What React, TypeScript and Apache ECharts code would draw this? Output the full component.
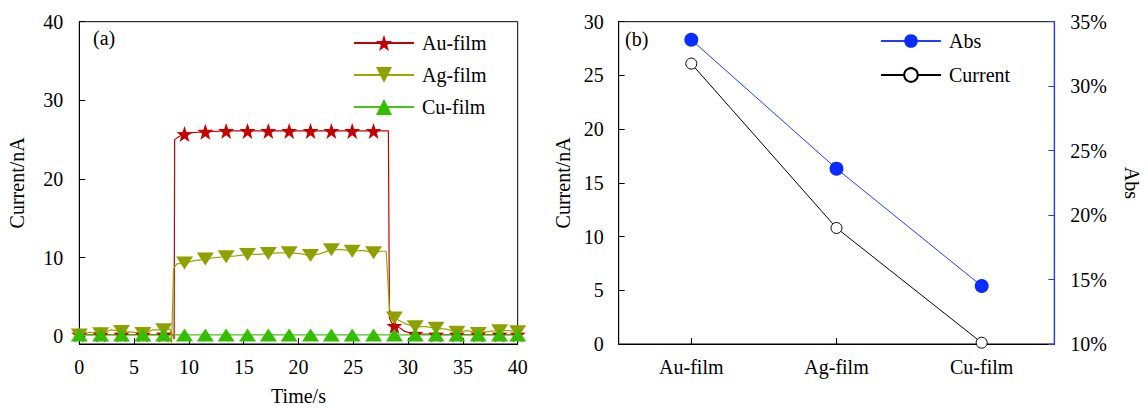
import React, { useEffect, useRef } from 'react';
import * as echarts from 'echarts';

// ---- Panel (a): current vs time ----
const markerTimes = [0, 1.95, 3.85, 5.8, 7.7, 9.6, 11.5, 13.4, 15.35, 17.25, 19.15, 21.1, 23.0, 24.9, 26.85, 28.75, 30.65, 32.55, 34.45, 36.4, 38.35, 40];
const auMarkerValues = [0.2, 0.2, 0.2, 0.2, 0.2, 25.7, 26.0, 26.1, 26.1, 26.1, 26.1, 26.1, 26.1, 26.1, 26.1, 1.3, 0.3, 0.2, 0.2, 0.2, 0.2, 0.2];
const auTracePoints = [[8.6, 0.2], [8.65, -0.4], [8.7, 25.0], [9.1, 25.4], [10.3, 25.9], [28.2, 26.1], [28.3, 2.3], [28.5, 1.7], [29.3, 1.0], [29.7, 0.6], [30.2, 0.4]];
const agMarkerValues = [0.15, 0.3, 0.6, 0.35, 0.8, 9.3, 9.8, 10.1, 10.4, 10.5, 10.6, 10.25, 11.0, 10.8, 10.6, 2.3, 1.2, 1.0, 0.5, 0.35, 0.7, 0.55];
const agTracePoints = [[0.9, 0.5], [2.9, 0.8], [4.8, 0.5], [6.7, 0.8], [8.3, 0.9], [8.42, -1.0], [8.6, 8.6], [8.9, 9.2], [10.5, 9.6], [12.4, 10.0], [14.3, 10.2], [16.3, 10.4], [18.2, 10.6], [20.1, 10.5], [22.0, 10.5], [24.0, 11.0], [25.9, 10.9], [27.6, 10.8], [28.0, 10.8], [28.3, 3.4], [29.7, 1.6], [31.6, 1.2], [33.5, 0.9], [35.4, 0.7], [37.4, 0.6], [39.2, 0.7]];
const cuMarkerValues = [0.15, 0.15, 0.15, 0.15, 0.15, 0.15, 0.15, 0.15, 0.15, 0.15, 0.15, 0.15, 0.15, 0.15, 0.15, 0.15, 0.15, 0.15, 0.15, 0.15, 0.15, 0.15];
const cuTracePoints: number[][] = [];
const timeTicks = [0, 5, 10, 15, 20, 25, 30, 35, 40];
const currentTicksA = [0, 10, 20, 30, 40];

// ---- Panel (b): films ----
const films = ['Au-film', 'Ag-film', 'Cu-film'];
const absValues = [33.6, 23.6, 14.5];
const currentValues = [26.1, 10.8, 0.12];

const FONT = "'Liberation Serif', 'Times New Roman', serif";

function buildData(markerValues: number[], trace: number[][]) {
  const pts: any[] = [];
  markerTimes.forEach((t, i) => pts.push({ value: [t, markerValues[i]] }));
  trace.forEach(([t, v]) => pts.push({ value: [t, v], symbol: 'none' }));
  pts.sort((a, b) => a.value[0] - b.value[0]);
  return pts;
}

export default function App() {
  const ref = useRef<HTMLDivElement>(null);
  useEffect(() => {
    if (!ref.current) return;
    const chart = echarts.init(ref.current, undefined, { renderer: 'svg' });
    const axisLine = { show: true, lineStyle: { color: '#000', width: 1 } };
    const tick = { show: true, inside: true, length: 6, lineStyle: { color: '#000', width: 1 } };
    const label = { color: '#000', fontSize: 20, fontFamily: FONT };
    const nameStyle = { color: '#000', fontSize: 20, fontFamily: FONT };
    const option: any = {
      animation: false,
      textStyle: { fontFamily: FONT, color: '#000' },
      grid: [
        { left: 79.3, top: 21.7, width: 438.4, height: 323.3, show: true, borderColor: '#000', borderWidth: 1, backgroundColor: 'transparent' },
        { left: 618.7, top: 21.7, width: 435.6, height: 322.3, show: true, borderColor: '#000', borderWidth: 1, backgroundColor: 'transparent' },
      ],
      xAxis: [
        {
          type: 'value', gridIndex: 0, min: 0, max: 40, interval: 5,
          axisLine: { ...axisLine, onZero: false }, axisTick: tick,
          axisLabel: { ...label, margin: 13, customValues: timeTicks },
          splitLine: { show: false },
          name: 'Time/s', nameLocation: 'middle', nameGap: 42, nameTextStyle: nameStyle,
        },
        {
          type: 'category', gridIndex: 1, data: films, boundaryGap: true,
          axisLine, axisTick: { ...tick, alignWithLabel: true },
          axisLabel: { ...label, margin: 13 },
          splitLine: { show: false },
        },
      ],
      yAxis: [
        {
          type: 'value', gridIndex: 0, min: -1, max: 40,
          axisLine, axisTick: { ...tick, customValues: currentTicksA },
          axisLabel: { ...label, margin: 16, customValues: currentTicksA },
          splitLine: { show: false },
          name: 'Current/nA', nameLocation: 'middle', nameGap: 52, nameTextStyle: nameStyle,
        },
        {
          type: 'value', gridIndex: 1, min: 0, max: 30, interval: 5,
          axisLine, axisTick: tick,
          axisLabel: { ...label, margin: 15 },
          splitLine: { show: false },
          name: 'Current/nA', nameLocation: 'middle', nameGap: 46, nameTextStyle: nameStyle,
        },
        {
          type: 'value', gridIndex: 1, position: 'right', min: 10, max: 35, interval: 5,
          axisLine: { show: true, lineStyle: { color: '#1f3cff', width: 1.2 } },
          axisTick: { show: true, inside: true, length: 6, lineStyle: { color: '#1f3cff', width: 1 } },
          axisLabel: { ...label, margin: 16, formatter: '{value}%' },
          splitLine: { show: false },
          name: 'Abs', nameLocation: 'middle', nameGap: 68, nameRotate: -90, nameTextStyle: nameStyle,
        },
      ],
      legend: [
        {
          orient: 'vertical', left: 353, top: 33, padding: 0, itemWidth: 60, itemHeight: 20, itemGap: 12,
          textStyle: { fontSize: 20, fontFamily: FONT, color: '#000', padding: [0, 0, 0, 3] },
          data: ['Au-film', 'Ag-film', 'Cu-film'],
        },
        {
          orient: 'vertical', left: 880, top: 31, padding: 0, itemWidth: 60, itemHeight: 17, itemGap: 14,
          textStyle: { fontSize: 20, fontFamily: FONT, color: '#000', padding: [0, 0, 0, 3] },
          data: ['Abs', 'Current'],
        },
      ],
      graphic: [
        { type: 'text', left: 93, top: 28, style: { text: '(a)', fontSize: 20, fontFamily: FONT, fill: '#000' } },
        { type: 'text', left: 625, top: 29, style: { text: '(b)', fontSize: 20, fontFamily: FONT, fill: '#000' } },
      ],
      series: [
        {
          name: 'Au-film', type: 'line', xAxisIndex: 0, yAxisIndex: 0,
          data: buildData(auMarkerValues, auTracePoints),
          symbol: 'path://M0,-10 L2.35,-3.24 L9.51,-3.09 L3.8,1.24 L5.88,8.09 L0,4 L-5.88,8.09 L-3.8,1.24 L-9.51,-3.09 L-2.35,-3.24 Z',
          symbolSize: 16, showAllSymbol: true,
          lineStyle: { color: '#c40000', width: 1.2 }, itemStyle: { color: '#c40000' },
        },
        {
          name: 'Ag-film', type: 'line', xAxisIndex: 0, yAxisIndex: 0,
          data: buildData(agMarkerValues, agTracePoints),
          symbol: 'triangle', symbolRotate: 180, symbolSize: [17, 13], showAllSymbol: true,
          lineStyle: { color: '#97a800', width: 1.2 }, itemStyle: { color: '#8fa000' },
        },
        {
          name: 'Cu-film', type: 'line', xAxisIndex: 0, yAxisIndex: 0,
          data: buildData(cuMarkerValues, cuTracePoints),
          symbol: 'triangle', symbolSize: [17, 13], showAllSymbol: true,
          lineStyle: { color: '#45c41a', width: 1.2 }, itemStyle: { color: '#33bf00' },
        },
        {
          name: 'Abs', type: 'line', xAxisIndex: 1, yAxisIndex: 2,
          data: absValues, symbol: 'circle', symbolSize: 14,
          lineStyle: { color: '#1f3cff', width: 1 }, itemStyle: { color: '#0a2cff' },
        },
        {
          name: 'Current', type: 'line', xAxisIndex: 1, yAxisIndex: 1,
          data: currentValues, symbol: 'circle', symbolSize: 11,
          lineStyle: { color: '#000', width: 1 },
          itemStyle: { color: '#fff', borderColor: '#000', borderWidth: 1 },
        },
      ],
    };
    chart.setOption(option);
    return () => chart.dispose();
  }, []);
  return <div ref={ref} style={{ position: 'fixed', left: 0, top: 0, width: 1148, height: 411, background: '#fff' }} />;
}
